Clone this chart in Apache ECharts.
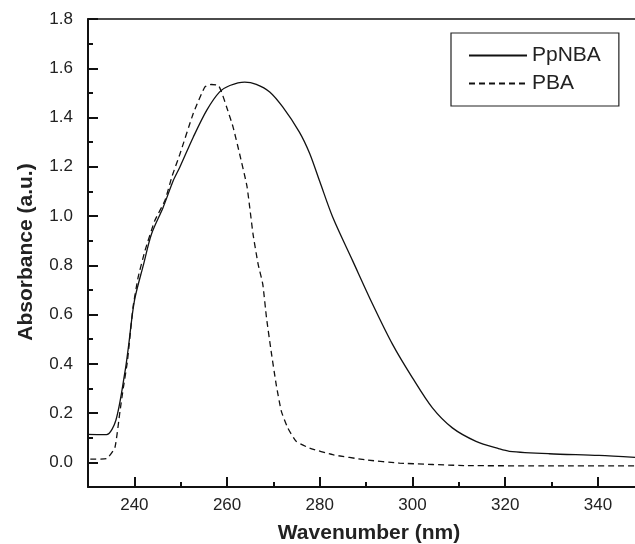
<!DOCTYPE html>
<html>
<head>
<meta charset="utf-8">
<script src="https://cdn.jsdelivr.net/npm/echarts@6/dist/echarts.min.js"></script>
<style>
  html, body { margin: 0; padding: 0; background: #fff; }
  #chart { width: 635px; height: 544px; }
</style>
</head>
<body>
<div id="chart"></div>
<script>
// PpNBA (solid)
const ppnbaX = [228, 232, 234, 236, 238, 238.7, 240, 242, 243.7, 246.2, 248.4, 249.8, 252.7, 255.6, 258.4, 260.6, 263.8, 266.3, 269.2, 272, 275.6, 277.8, 280, 282.8, 287.1, 291.4, 295.7, 300, 304.3, 308.6, 313.7, 318.7, 320.9, 329.5, 340.2, 348];
const ppnbaY = [0.114, 0.113, 0.113, 0.17, 0.37, 0.465, 0.655, 0.805, 0.927, 1.035, 1.144, 1.198, 1.32, 1.429, 1.504, 1.53, 1.544, 1.535, 1.504, 1.443, 1.341, 1.255, 1.14, 0.995, 0.818, 0.642, 0.479, 0.343, 0.221, 0.14, 0.0855, 0.055, 0.045, 0.035, 0.028, 0.02];

// PBA (dashed)
const pbaX = [230.5, 234, 235.8, 236.9, 237.6, 238.5, 239.7, 240.8, 242.3, 244.4, 246.6, 248.1, 249.8, 252.7, 255.2, 256.6, 258.1, 258.8, 259.9, 261.3, 262.7, 264.3, 265.6, 266.7, 267.7, 268.5, 269.5, 270.6, 271.7, 273.1, 274.9, 277.8, 282.8, 290, 297.2, 311.5, 330, 348];
const pbaY = [0.013, 0.015, 0.06, 0.208, 0.3, 0.41, 0.628, 0.75, 0.86, 0.981, 1.063, 1.16, 1.25, 1.416, 1.524, 1.534, 1.531, 1.504, 1.443, 1.361, 1.253, 1.12, 0.927, 0.805, 0.724, 0.588, 0.452, 0.316, 0.208, 0.14, 0.0855, 0.058, 0.031, 0.01, -0.003, -0.013, -0.014, -0.014];

const xTickLabels = [240, 260, 280, 300, 320, 340];
const xMinorTicks = [250, 270, 290, 310, 330];
const yTickLabels = [0, 0.2, 0.4, 0.6, 0.8, 1.0, 1.2, 1.4, 1.6, 1.8];
const yMinorTicks = [0.1, 0.3, 0.5, 0.7, 0.9, 1.1, 1.3, 1.5, 1.7];

const FONT = '"Liberation Sans", Arial, sans-serif';
const INK = '#111';

const zip = (xs, ys) => xs.map((x, i) => [x, ys[i]]);

const chart = echarts.init(document.getElementById('chart'));

const xBase = { type: 'value', min: 230, max: 348, splitLine: { show: false } };
const yBase = { type: 'value', min: -0.1, max: 1.8, splitLine: { show: false } };

chart.setOption({
  backgroundColor: '#fff',
  animation: false,
  grid: { left: 88, right: 0, top: 19, bottom: 57 },
  legend: {
    data: ['PpNBA', 'PBA'],
    orient: 'vertical',
    left: 451,
    top: 33,
    padding: [12, 18, 12, 17],
    itemWidth: 58,
    itemHeight: 20,
    itemGap: 7,
    borderColor: '#222',
    borderWidth: 1.2,
    itemStyle: { opacity: 0 },
    textStyle: { fontSize: 21, color: '#222', fontFamily: FONT }
  },
  xAxis: [
    {
      ...xBase,
      position: 'bottom',
      axisLine: { onZero: false, lineStyle: { color: INK, width: 2 } },
      axisTick: { show: true, inside: true, length: 5, customValues: xMinorTicks, lineStyle: { color: INK, width: 2 } },
      axisLabel: { customValues: xTickLabels, fontSize: 17, color: '#222', fontFamily: FONT, margin: 10 }
    },
    {
      ...xBase,
      position: 'bottom',
      axisLine: { show: false, onZero: false },
      axisTick: { show: true, inside: true, length: 10, customValues: xTickLabels, lineStyle: { color: INK, width: 2 } },
      axisLabel: { show: false }
    },
    {
      ...xBase,
      position: 'top',
      axisLine: { onZero: false, lineStyle: { color: INK, width: 1.5 } },
      axisTick: { show: false },
      axisLabel: { show: false }
    }
  ],
  yAxis: [
    {
      ...yBase,
      position: 'left',
      axisLine: { onZero: false, lineStyle: { color: INK, width: 2 } },
      axisTick: { show: true, inside: true, length: 5, customValues: yMinorTicks, lineStyle: { color: INK, width: 2 } },
      axisLabel: {
        customValues: yTickLabels,
        formatter: v => v.toFixed(1),
        fontSize: 17, color: '#222', fontFamily: FONT, margin: 15
      }
    },
    {
      ...yBase,
      position: 'left',
      axisLine: { show: false, onZero: false },
      axisTick: { show: true, inside: true, length: 10, customValues: yTickLabels, lineStyle: { color: INK, width: 2 } },
      axisLabel: { show: false }
    }
  ],
  graphic: [
    {
      type: 'text', x: 369, y: 533,
      style: { text: 'Wavenumber (nm)', font: 'bold 21px ' + FONT, fill: '#222', textAlign: 'center', textVerticalAlign: 'middle' }
    },
    {
      type: 'text', x: 26, y: 252, rotation: Math.PI / 2,
      style: { text: 'Absorbance (a.u.)', font: 'bold 21px ' + FONT, fill: '#222', textAlign: 'center', textVerticalAlign: 'middle' }
    }
  ],
  series: [
    {
      name: 'PpNBA',
      type: 'line',
      xAxisIndex: 0,
      yAxisIndex: 0,
      data: zip(ppnbaX, ppnbaY),
      symbol: 'none',
      smooth: 0.3,
      clip: false,
      lineStyle: { color: INK, width: 1.3 },
      itemStyle: { color: INK }
    },
    {
      name: 'PBA',
      type: 'line',
      xAxisIndex: 0,
      yAxisIndex: 0,
      data: zip(pbaX, pbaY),
      symbol: 'none',
      smooth: 0.15,
      lineStyle: { color: INK, width: 1.3, type: [6, 4] },
      itemStyle: { color: INK }
    }
  ]
});
</script>
</body>
</html>
